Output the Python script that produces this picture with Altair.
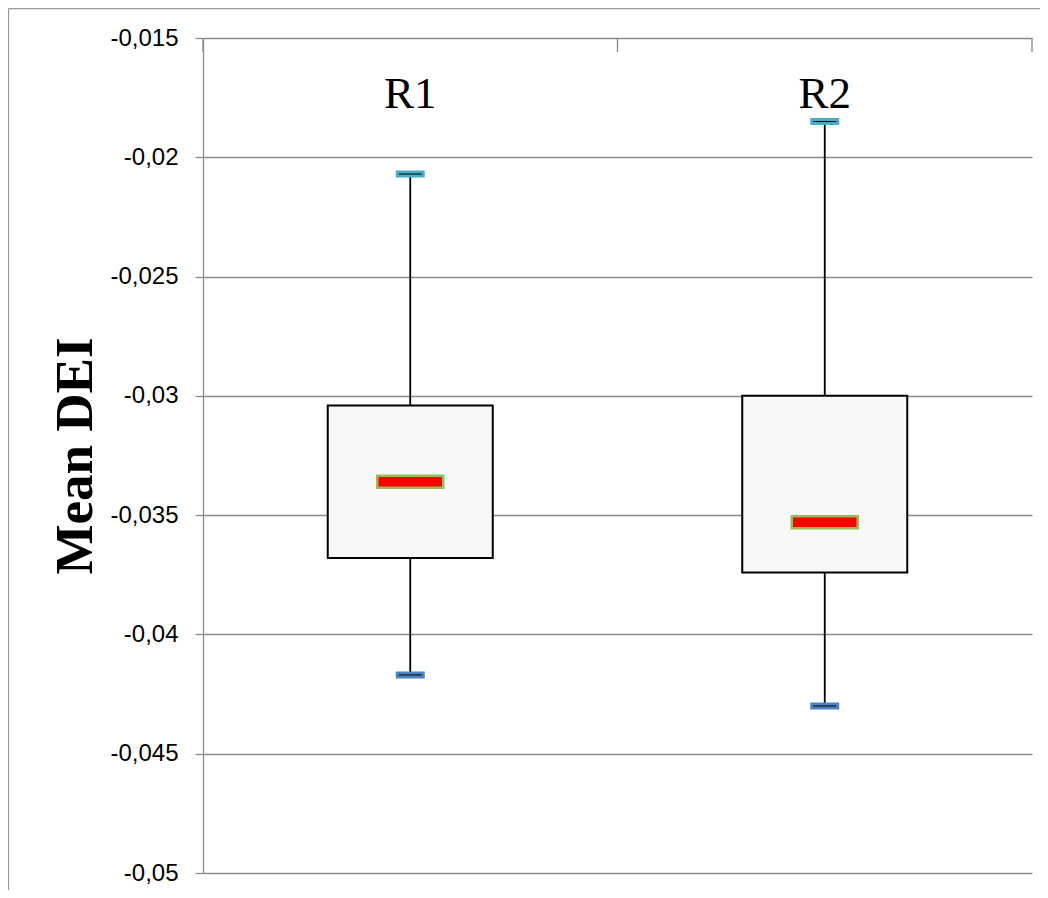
import altair as alt
import pandas as pd

categories = ["R1", "R2"]
whisker_high = [-0.0207, -0.0185]
q3 = [-0.0304, -0.0300]
median = [-0.0336, -0.0353]
q1 = [-0.0368, -0.0374]
whisker_low = [-0.0417, -0.0430]
y_ticks = [-0.015, -0.02, -0.025, -0.03, -0.035, -0.04, -0.045, -0.05]

df = pd.DataFrame({
    "cat": categories,
    "hi": whisker_high,
    "q3": q3,
    "med": median,
    "q1": q1,
    "lo": whisker_low,
})

GRID = "#8a8a8a"
W, H = 829, 835

x_scale = alt.Scale(paddingInner=0, paddingOuter=0)


def X(band_pos=None):
    if band_pos is None:
        return alt.X("cat:N", scale=x_scale, axis=None)
    return alt.X("cat:N", scale=x_scale, axis=None, bandPosition=band_pos)


y_scale = alt.Scale(domain=[-0.05, -0.015], nice=False, zero=False)
y_axis = alt.Axis(
    values=y_ticks,
    labelExpr="'-' + replace(format(abs(datum.value), '.3~f'), '.', ',')",
    labelFont="Liberation Sans", labelFontSize=24, labelColor="black",
    labelPadding=17, tickSize=8, tickColor=GRID, tickWidth=1.3,
    domainColor=GRID, domainWidth=1.3,
    grid=True, gridColor=GRID, gridWidth=1.3, gridOpacity=1,
    title="Mean DEI", titleFont="Liberation Serif", titleFontSize=53,
    titleFontWeight="bold", titleColor="black", titleAngle=-90,
    titleX=-112, titleY=H / 2, titleAlign="center", titleBaseline="alphabetic",
    orient="left",
)


def Y(field):
    return alt.Y(field, type="quantitative", scale=y_scale, axis=y_axis)


base = alt.Chart(df)

whisk = base.mark_rule(color="black", strokeWidth=1.8).encode(
    x=X(), y=Y("hi"), y2="lo:Q",
)

box = base.mark_bar(size=165, fill="#f8f8f8", stroke="black", strokeWidth=2).encode(
    x=X(), y=Y("q3"), y2="q1:Q"
)

med = base.mark_tick(size=66, thickness=12, color="#ff0000", stroke="#9bbb59",
                     strokeWidth=2.5, opacity=1, orient="horizontal").encode(
    x=X(), y=Y("med")
)

cap_hi = base.mark_tick(size=26, thickness=4, color="black", stroke="#4bacc6",
                        strokeWidth=3, opacity=1, orient="horizontal").encode(
    x=X(), y=Y("hi")
)

cap_lo = base.mark_tick(size=26, thickness=4, color="black", stroke="#4f81bd",
                        strokeWidth=3, opacity=1, orient="horizontal").encode(
    x=X(), y=Y("lo")
)

labels = base.transform_calculate(ly="-0.01795").mark_text(
    font="Liberation Serif", fontSize=45, color="black",
    baseline="alphabetic", align="center"
).encode(
    x=X(), y=Y("ly"), text="cat:N"
)

# category-axis tick marks at band boundaries (top edge, pointing down)
cat_ticks_start = base.mark_rule(color=GRID, strokeWidth=1.3).encode(
    x=X(0), y=alt.value(0), y2=alt.value(14)
)
cat_ticks_end = base.transform_filter(alt.datum.cat == categories[-1]).mark_rule(
    color=GRID, strokeWidth=1.3
).encode(
    x=X(1), y=alt.value(0), y2=alt.value(14)
)

frame_df = pd.DataFrame({"k": [0]})
frame_left = alt.Chart(frame_df).mark_rule(color="#999999", strokeWidth=1.3).encode(
    x=alt.value(-194.5), y=alt.value(-29.5), y2=alt.value(H + 17)
)
frame_top = alt.Chart(frame_df).mark_rule(color="#999999", strokeWidth=1.3).encode(
    x=alt.value(-194.5), x2=alt.value(W + 8), y=alt.value(-29.5)
)

chart = alt.layer(
    whisk, box, med, cap_hi, cap_lo, labels, cat_ticks_start, cat_ticks_end,
    frame_left, frame_top
).properties(
    width=W, height=H,
    background="white",
    view=alt.ViewBackground(stroke="transparent", strokeWidth=0),
    padding={"left": 195, "top": 30, "right": 8, "bottom": 17},
    autosize=alt.AutoSizeParams(type="none"),
).configure_view(strokeWidth=0, stroke="transparent")

chart.save("out.html", embed_options={"renderer": "svg", "actions": False})
